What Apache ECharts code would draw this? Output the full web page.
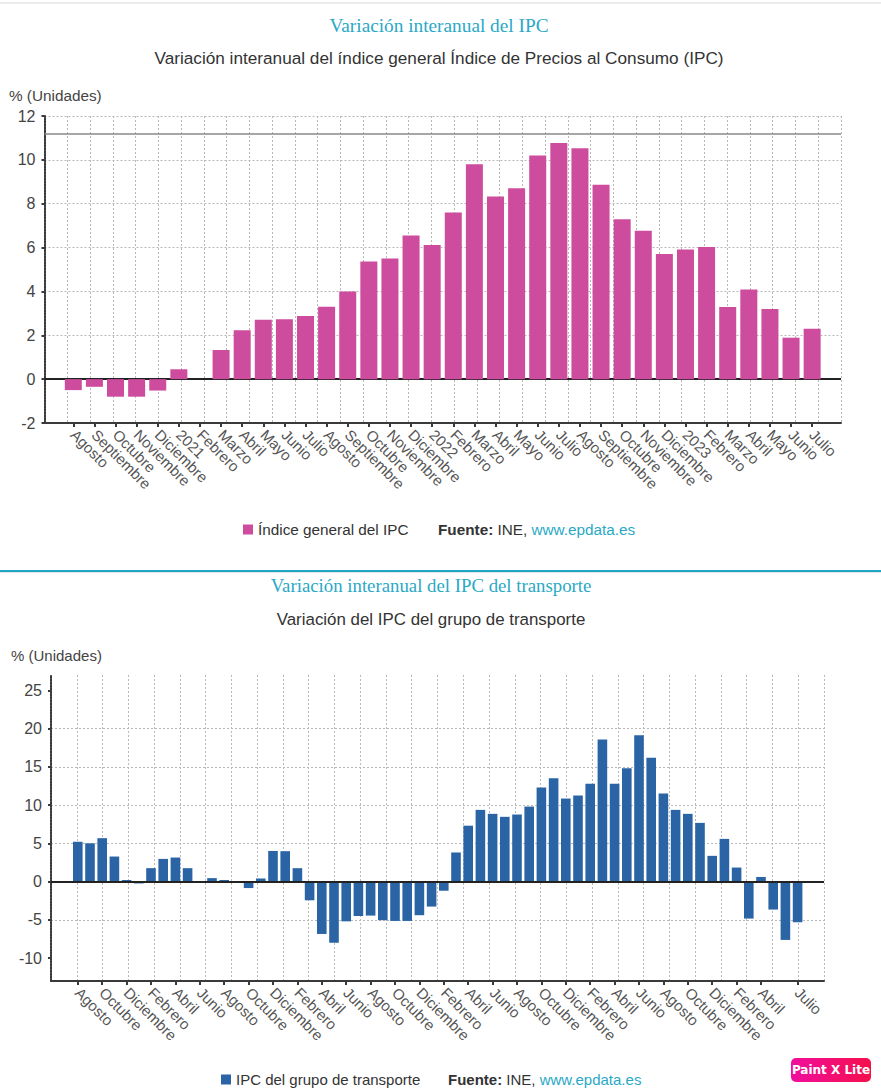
<!DOCTYPE html>
<html>
<head>
<meta charset="utf-8">
<title>Variación interanual del IPC</title>
<script src="https://cdn.jsdelivr.net/npm/echarts@6/dist/echarts.min.js"></script>
<style>
	html, body { margin: 0; padding: 0; background: #fff; }
	#main { width: 881px; height: 1091px; }
</style>
</head>
<body>
<div id="main"></div>
<script>
var mesesIpc = ['Agosto','Septiembre','Octubre','Noviembre','Diciembre','2021','Febrero','Marzo','Abril','Mayo','Junio','Julio',
	'Agosto','Septiembre','Octubre','Noviembre','Diciembre','2022','Febrero','Marzo','Abril','Mayo','Junio','Julio',
	'Agosto','Septiembre','Octubre','Noviembre','Diciembre','2023','Febrero','Marzo','Abril','Mayo','Junio','Julio'];
var valoresIpc = [-0.5,-0.35,-0.8,-0.8,-0.52,0.45,0,1.33,2.23,2.71,2.73,2.88,
	3.3,4.0,5.36,5.5,6.55,6.12,7.6,9.8,8.33,8.71,10.2,10.77,
	10.53,8.86,7.29,6.77,5.71,5.91,6.03,3.29,4.09,3.2,1.89,2.3];
var marcasIpc = [-2,0,2,4,6,8,10,12];

var mesesTransporte = ['Agosto','Septiembre','Octubre','Noviembre','Diciembre','Enero','Febrero','Marzo','Abril','Mayo','Junio','Julio',
	'Agosto','Septiembre','Octubre','Noviembre','Diciembre','Enero','Febrero','Marzo','Abril','Mayo','Junio','Julio',
	'Agosto','Septiembre','Octubre','Noviembre','Diciembre','Enero','Febrero','Marzo','Abril','Mayo','Junio','Julio',
	'Agosto','Septiembre','Octubre','Noviembre','Diciembre','Enero','Febrero','Marzo','Abril','Mayo','Junio','Julio',
	'Agosto','Septiembre','Octubre','Noviembre','Diciembre','Enero','Febrero','Marzo','Abril','Mayo','Junio','Julio'];
var valoresTransporte = [5.2,5.0,5.67,3.27,0.2,-0.25,1.75,2.96,3.14,1.75,0,0.45,
	0.2,0,-0.85,0.4,4.0,3.97,1.75,-2.45,-6.85,-8.0,-5.2,-4.5,
	-4.45,-5.05,-5.15,-5.15,-4.4,-3.27,-1.2,3.8,7.3,9.37,8.85,8.46,
	8.76,9.8,12.3,13.5,10.85,11.25,12.77,18.57,12.8,14.8,19.14,16.17,
	11.5,9.37,8.85,7.67,3.36,5.58,1.83,-4.84,0.6,-3.66,-7.63,-5.32];
var marcasTransporte = [-10,-5,0,5,10,15,20,25];

var FONT = '"Liberation Sans", Arial, sans-serif';
var TEAL = '#2aa9c6';

var ds = {
	grids : [], xAxis : [], yAxis : [], series : [], legends : [], titles : [],

	title : function(text, x, y, style){
		ds.titles.push({
			text : text, left : x, top : y, textAlign : style.align || 'left', textVerticalAlign : 'middle',
			padding : 0,
			textStyle : { fontFamily : style.family || FONT, fontSize : style.size, fontWeight : 'normal', color : style.color, rich : style.rich }
		});
	},

	fuente : function(x, y, size){
		ds.title('{b|Fuente:} INE, {u|www.epdata.es}', x, y, { size : size, color : '#333', rich : {
			b : { fontFamily : FONT, fontSize : size, fontWeight : 'bold', color : '#333' },
			u : { fontFamily : FONT, fontSize : size, color : TEAL }
		} });
	},

	//un panel son dos rejillas: el marco con su trama y las barras encima
	panel : function(p){
		var n = ds.grids.length;
		var height = p.bottom - p.top;
		ds.grids.push({ left : p.left, top : p.top, width : p.right - p.left, height : height });
		ds.grids.push({ left : p.firstBar - p.band / 2, top : p.top, width : p.band * p.meses.length, height : height });

		ds.xAxis.push({
			type : 'value', gridIndex : n, min : 0, max : p.divisiones, interval : 1,
			axisLabel : { show : false }, axisTick : { show : false },
			axisLine : { show : true, onZero : false, lineStyle : { color : '#3a3a3a', width : 2, type : p.bottomType } },
			splitLine : { show : true, lineStyle : { color : '#b8b8b8', width : 1, type : [2, 2] } }
		});
		ds.yAxis.push({
			type : 'value', gridIndex : n, min : p.min, max : p.max, interval : p.interval,
			axisLine : { show : true, onZero : false, lineStyle : { color : '#3a3a3a', width : 2, type : [2, 1] } },
			axisTick : { show : true, length : 3, customValues : p.marcas, lineStyle : { color : '#3a3a3a', width : 2 } },
			axisLabel : { customValues : p.marcas, fontFamily : FONT, fontSize : 16, color : '#444', margin : 9 },
			splitLine : { show : true, showMinLine : p.min % p.interval == 0, showMaxLine : p.max % p.interval == 0, lineStyle : { color : '#b8b8b8', width : 1, type : [2, 2] } }
		});
		ds.xAxis.push({
			type : 'category', gridIndex : n + 1, data : p.meses, position : 'bottom',
			axisLine : { show : false, onZero : false },
			axisTick : { show : true, alignWithLabel : true, length : 4, interval : p.mostrar, lineStyle : { color : '#3a3a3a', width : 2 } },
			axisLabel : { interval : p.mostrar, rotate : -45, fontFamily : FONT, fontSize : 15, color : '#555', margin : 9 }
		});
		ds.yAxis.push({ type : 'value', gridIndex : n + 1, min : p.min, max : p.max, show : false });

		var lineas = [{ yAxis : 0, lineStyle : { color : '#222', width : 2, type : 'solid' } }];
		if (p.referencia !== undefined) {
			lineas.push({ yAxis : p.referencia, lineStyle : { color : '#888', width : 1.5, type : 'solid' } });
		}
		ds.series.push({
			type : 'line', xAxisIndex : n, yAxisIndex : n, data : [], silent : true, z : p.zLinea,
			markLine : { silent : true, symbol : 'none', label : { show : false }, animation : false, z : p.zLinea, data : lineas }
		});
		ds.series.push({
			name : p.nombre, type : 'bar', xAxisIndex : n + 1, yAxisIndex : n + 1, data : p.valores,
			barWidth : p.barWidth, itemStyle : { color : p.color }, z : 3, animation : false
		});
		ds.legends.push({
			data : [p.nombre], left : p.legendX, top : p.legendY - 9, padding : 0, itemWidth : 10, itemHeight : 10, itemGap : 5, selectedMode : false,
			icon : 'rect', textStyle : { fontFamily : FONT, fontSize : p.legendSize, color : '#333', padding : [1, 0, 0, 0] }
		});
	}
};

ds.title('Variación interanual del IPC', 439, 25, { align : 'center', family : '"Liberation Serif", serif', size : 19.3, color : TEAL });
ds.title('Variación interanual del índice general Índice de Precios al Consumo (IPC)', 439, 58, { align : 'center', size : 17.2, color : '#333' });
ds.title('% (Unidades)', 9, 95, { size : 15.3, color : '#444' });
ds.fuente(438, 529, 15.3);
ds.title('Variación interanual del IPC del transporte', 431, 585, { align : 'center', family : '"Liberation Serif", serif', size : 18.8, color : TEAL });
ds.title('Variación del IPC del grupo de transporte', 431, 619, { align : 'center', size : 16.9, color : '#333' });
ds.title('% (Unidades)', 11, 655, { size : 15, color : '#444' });
ds.fuente(448, 1079, 15);

ds.panel({
	nombre : 'Índice general del IPC', meses : mesesIpc, valores : valoresIpc, marcas : marcasIpc,
	left : 44.5, right : 841, top : 116, bottom : 423,
	firstBar : 73.3, band : 21.11, barWidth : 17, divisiones : 35,
	min : -2, max : 12, interval : 2, referencia : 11.2,
	mostrar : 0, bottomType : [2, 1], color : '#ce4c9e', zLinea : 2,
	legendX : 243, legendY : 531, legendSize : 15.3
});
ds.panel({
	nombre : 'IPC del grupo de transporte', meses : mesesTransporte, valores : valoresTransporte, marcas : marcasTransporte,
	left : 51, right : 824, top : 675, bottom : 981,
	firstBar : 77.8, band : 12.2, barWidth : 9.6, divisiones : 30,
	min : -13, max : 27, interval : 5,
	//cada dos meses, salvo el último tramo que acaba en julio
	mostrar : function(i){ return i == 59 || (i % 2 == 0 && i < 58); },
	bottomType : 'solid', color : '#2a64a4', zLinea : 4,
	legendX : 221, legendY : 1081, legendSize : 15
});

var myChart = echarts.init(document.getElementById('main'), null, { renderer : 'svg' });
myChart.setOption({
	animation : false,
	title : ds.titles,
	grid : ds.grids,
	xAxis : ds.xAxis,
	yAxis : ds.yAxis,
	legend : ds.legends,
	series : ds.series,
	graphic : [
		{ type : 'rect', shape : { x : 0, y : 2, width : 881, height : 2 }, style : { fill : '#ececec' } },
		{ type : 'rect', shape : { x : 0, y : 570, width : 881, height : 2 }, style : { fill : '#1fa6c4' } },
		{ type : 'rect', shape : { x : 0, y : 572, width : 881, height : 1 }, style : { fill : '#e4e4e4' } },
		{ type : 'rect', shape : { x : 791, y : 1058, width : 80, height : 24, r : 5 }, style : {
			fill : new echarts.graphic.LinearGradient(0, 0, 1, 0, [{ offset : 0, color : '#f00f9e' }, { offset : 1, color : '#f50f4b' }])
		} },
		{ type : 'text', x : 831, y : 1070, style : { text : 'Paint X Lite', fill : '#fff', font : 'bold 12px "DejaVu Sans", sans-serif', align : 'center', verticalAlign : 'middle' } }
	]
});
</script>
</body>
</html>
